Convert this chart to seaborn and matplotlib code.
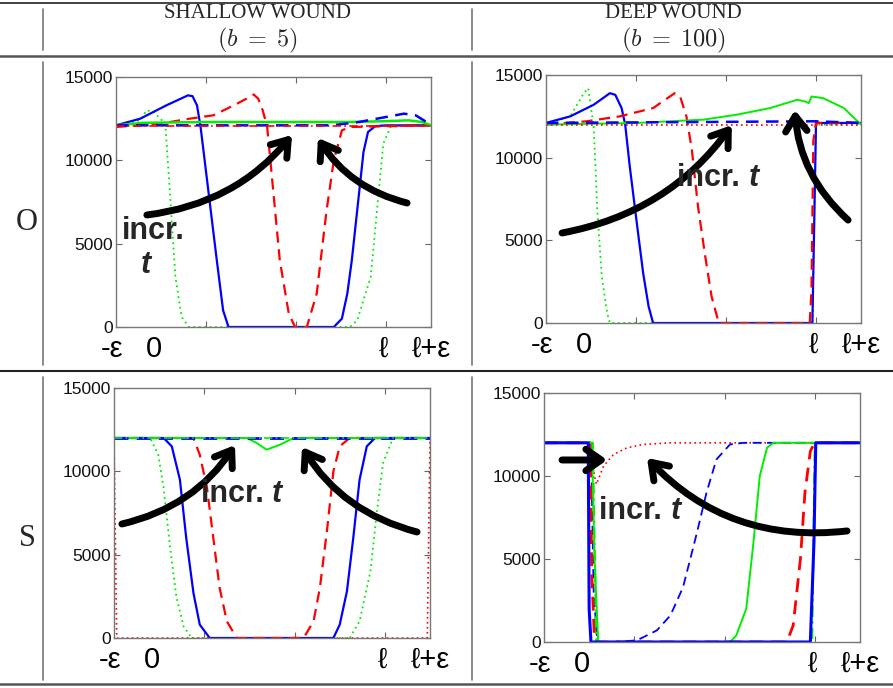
import matplotlib
matplotlib.use("Agg")
import matplotlib.pyplot as plt
import seaborn as sns
import pandas as pd
from matplotlib.lines import Line2D

sns.set_theme(style="white")
plt.rcParams['font.family'] = ['Liberation Sans', 'DejaVu Sans']
plt.rcParams['mathtext.fontset'] = 'cm'

# ---------------- data ----------------
COL_TITLES = ["SHALLOW WOUND", "DEEP WOUND"]
COL_SUBTITLES = [r"$(b\;=\;5)$", r"$(b\;=\;100)$"]
ROW_LABELS = ["O", "S"]
YTICKS = [0, 5000, 10000, 15000]
XTICKS = [1, 2, 3]
XLABEL_POS = [-0.04, 0.42, 2.97, 3.5]
XLABEL_TXT = ["-ε", "0", "ℓ", "ℓ+ε"]

# O, shallow wound
OSH_GDOT_X = [0, 0.27, 0.34, 0.42, 0.51, 0.55, 0.60, 0.66, 0.73, 0.81, 2.60, 2.68, 2.83, 2.90, 2.97, 3.05, 3.23, 3.5]
OSH_GDOT_Y = [12100, 12400, 13000, 12900, 12400, 12000, 8000, 3000, 600, 0, 0, 400, 3000, 7000, 11000, 12000, 12100, 12100]
OSH_BSOL_X = [0, 0.27, 0.56, 0.80, 0.85, 0.90, 0.94, 1.03, 1.12, 1.19, 1.25, 2.42, 2.51, 2.57, 2.62, 2.70, 2.75, 2.80, 2.88, 3.0, 3.5]
OSH_BSOL_Y = [12100, 12500, 13300, 13900, 13850, 13300, 12000, 8000, 4000, 1000, 0, 0, 500, 2000, 4000, 8000, 10500, 11700, 12050, 12100, 12100]
OSH_RDASH_X = [0, 0.49, 0.82, 1.08, 1.31, 1.45, 1.53, 1.58, 1.63, 1.68, 1.75, 1.82, 1.92, 1.99, 2.12, 2.23, 2.34, 2.42, 2.51, 2.60, 3.5]
OSH_RDASH_Y = [12000, 12200, 12500, 12700, 13300, 13700, 13950, 13700, 13000, 12000, 8000, 4000, 800, 0, 0, 2000, 7000, 10000, 11800, 12000, 12100]
OSH_GSOL_X = [0, 0.3, 1.0, 2.0, 2.6, 3.0, 3.25, 3.4, 3.5]
OSH_GSOL_Y = [12100, 12250, 12300, 12300, 12300, 12350, 12400, 12300, 12100]
OSH_BDASH_X = [0, 2.4, 2.7, 3.0, 3.2, 3.33, 3.42, 3.5]
OSH_BDASH_Y = [12100, 12100, 12300, 12600, 12800, 12700, 12400, 12100]
OSH_RDD_X = [0, 3.5]
OSH_RDD_Y = [12050, 12050]

# O, deep wound
ODP_GDOT_X = [0, 0.27, 0.42, 0.47, 0.50, 0.53, 0.57, 0.62, 0.68, 0.71, 2.96, 2.98, 3.0, 3.5]
ODP_GDOT_Y = [12000, 12500, 13900, 14200, 13000, 11900, 6800, 2800, 600, 0, 0, 6000, 12000, 12000]
ODP_BSOL_X = [0, 0.27, 0.53, 0.71, 0.77, 0.84, 0.88, 0.93, 1.01, 1.08, 1.14, 1.19, 2.96, 2.98, 3.0, 3.5]
ODP_BSOL_Y = [12100, 12500, 13200, 13900, 13800, 13000, 12000, 9500, 6000, 3000, 1000, 0, 0, 6000, 12100, 12100]
ODP_RDASH_X = [0, 0.45, 0.82, 1.19, 1.43, 1.49, 1.56, 1.62, 1.69, 1.77, 1.84, 1.92, 2.93, 2.95, 2.97, 3.0, 3.5]
ODP_RDASH_Y = [12000, 12200, 12500, 13000, 13900, 13700, 12500, 10500, 7000, 4000, 1600, 0, 0, 2000, 11000, 12100, 12100]
ODP_GSOL_X = [0, 1.01, 1.75, 2.12, 2.49, 2.79, 2.88, 2.92, 2.95, 3.08, 3.31, 3.5]
ODP_GSOL_Y = [12000, 12100, 12300, 12600, 13000, 13500, 13400, 13300, 13700, 13600, 13000, 12000]
ODP_BDASH_X = [0, 1.5, 3.0, 3.5]
ODP_BDASH_Y = [12100, 12150, 12200, 12100]
ODP_RDOT_X = [0, 3.5]
ODP_RDOT_Y = [12000, 12000]

# S, shallow wound
SSH_RDOT_X = [0, 0.03, 3.47, 3.5]
SSH_RDOT_Y = [12000, 0, 0, 12000]
SSH_GDOT_X = [0, 0.40, 0.49, 0.55, 0.62, 0.69, 0.77, 0.86, 2.61, 2.72, 2.84, 2.91, 2.98, 3.09, 3.5]
SSH_GDOT_Y = [12000, 12000, 11000, 9000, 5500, 2500, 700, 0, 0, 1000, 4000, 7500, 10500, 12000, 12000]
SSH_BSOL_X = [0, 0.55, 0.64, 0.73, 0.80, 0.88, 0.95, 1.06, 2.43, 2.50, 2.58, 2.65, 2.72, 2.80, 2.89, 3.5]
SSH_BSOL_Y = [12000, 12000, 11500, 9500, 6000, 2700, 800, 0, 0, 800, 2800, 6000, 9500, 11500, 12000, 12000]
SSH_RDASH_X = [0, 0.88, 0.95, 1.03, 1.10, 1.17, 1.25, 1.36, 2.10, 2.21, 2.28, 2.36, 2.43, 2.50, 2.61, 3.5]
SSH_RDASH_Y = [12000, 12000, 11000, 9000, 6000, 3000, 1000, 0, 0, 1000, 3000, 6500, 10000, 11500, 12000, 12000]
SSH_GSOL_X = [0, 1.47, 1.58, 1.69, 1.84, 1.99, 3.5]
SSH_GSOL_Y = [12000, 12000, 11700, 11300, 11600, 12000, 12000]
SSH_BDASH_X = [0, 3.5]
SSH_BDASH_Y = [12000, 12000]
SSH_GDD_X = [0, 3.5]
SSH_GDD_Y = [12000, 12000]

# S, deep wound
SDP_RDOT_X = [0, 0.50, 0.56, 0.58, 0.66, 0.77, 0.92, 1.10, 1.40, 3.5]
SDP_RDOT_Y = [12000, 12000, 10000, 9500, 10600, 11300, 11700, 11900, 12000, 12000]
SDP_BDASH_X = [0, 0.52, 0.55, 0.59, 0.77, 1.03, 1.25, 1.40, 1.54, 1.69, 1.80, 1.91, 2.06, 2.21, 3.5]
SDP_BDASH_Y = [12000, 12000, 3000, 0, 0, 100, 700, 1600, 3300, 6500, 9000, 11000, 11900, 12000, 12000]
SDP_GSOL_X = [0, 0.53, 0.56, 0.60, 2.06, 2.13, 2.24, 2.32, 2.39, 2.47, 2.54, 3.5]
SDP_GSOL_Y = [12000, 12000, 5000, 0, 0, 400, 2000, 6000, 10000, 11700, 12000, 12000]
SDP_RDASH_X = [0, 0.51, 0.53, 0.56, 2.69, 2.76, 2.84, 2.89, 2.95, 3.0, 3.5]
SDP_RDASH_Y = [12000, 12000, 4000, 0, 0, 1000, 5000, 9000, 11500, 12000, 12000]
SDP_BSOL_X = [0, 0.49, 0.50, 0.52, 2.95, 2.99, 3.01, 3.5]
SDP_BSOL_Y = [12000, 12000, 2000, 0, 0, 6000, 12000, 12000]
SDP_GDD_X = [0, 0.54, 0.58, 2.97, 3.0, 3.5]
SDP_GDD_Y = [12000, 12000, 0, 0, 12000, 12000]

# ---------------- styles ----------------
BLUE, RED, GREEN = "#0000ff", "#ff0000", "#00ee00"
DOT = (0, (1, 2))
DASH = (0, (5, 3))
DASHDOT = (0, (5, 2, 1, 2))

W, H = 893, 688
fig = plt.figure(figsize=(W / 100, H / 100), dpi=100)


def ax_at(l, t, r, b):
    return fig.add_axes([l / W, 1 - b / H, (r - l) / W, (b - t) / H])


def draw(ax, x, y, color, ls, lw):
    df = pd.DataFrame({"x": x, "y": y})
    sns.lineplot(data=df, x="x", y="y", ax=ax, color=color, linestyle=ls,
                 linewidth=lw, sort=False, estimator=None, legend=False)


def style(ax):
    ax.set_xlim(0, 3.5)
    ax.set_ylim(0, 15000)
    ax.set_xticks(XTICKS)
    ax.set_xticklabels([])
    ax.set_yticks(YTICKS)
    ax.set_yticklabels([str(v) for v in YTICKS], fontsize=12.5, color="#111")
    ax.set_xlabel("")
    ax.set_ylabel("")
    ax.tick_params(direction="in", top=True, right=True, left=True, bottom=True,
                   length=4, width=0.8, color="#666", pad=2)
    for s in ax.spines.values():
        s.set_color("#777")
        s.set_linewidth(1.0)
    for xp, t in zip(XLABEL_POS, XLABEL_TXT):
        ax.annotate(t, xy=(xp, 0), xycoords=("data", "axes fraction"),
                    xytext=(0, -5.5), textcoords="offset points",
                    ha="center", va="top", fontsize=21, color="black",
                    annotation_clip=False)


def arrow(ax, start, end, rad):
    ax.annotate("", xy=end, xytext=start, xycoords="axes fraction",
                arrowprops=dict(arrowstyle="->,head_length=0.5,head_width=0.35",
                                connectionstyle=f"arc3,rad={rad}",
                                lw=5, color="black", mutation_scale=22,
                                shrinkA=0, shrinkB=0))


# Panel O shallow
ax1 = ax_at(116, 77, 431, 327)
draw(ax1, OSH_GDOT_X, OSH_GDOT_Y, GREEN, DOT, 1.3)
draw(ax1, OSH_BSOL_X, OSH_BSOL_Y, BLUE, "-", 1.6)
draw(ax1, OSH_RDASH_X, OSH_RDASH_Y, RED, DASH, 1.6)
draw(ax1, OSH_GSOL_X, OSH_GSOL_Y, GREEN, "-", 1.8)
draw(ax1, OSH_BDASH_X, OSH_BDASH_Y, BLUE, DASH, 1.8)
draw(ax1, OSH_RDD_X, OSH_RDD_Y, RED, DASHDOT, 1.2)
style(ax1)
arrow(ax1, (0.098, 0.448), (0.559, 0.768), 0.2)
arrow(ax1, (0.924, 0.496), (0.641, 0.756), -0.2)
ax1.text(0.12, 0.384, "incr.", transform=ax1.transAxes, ha="center", va="center",
         fontsize=22, fontweight="bold")
ax1.text(0.095, 0.248, "t", transform=ax1.transAxes, ha="center", va="center",
         fontsize=22, fontweight="bold", fontstyle="italic")

# Panel O deep
ax2 = ax_at(546, 75, 861, 323)
draw(ax2, ODP_GDOT_X, ODP_GDOT_Y, GREEN, DOT, 1.3)
draw(ax2, ODP_BSOL_X, ODP_BSOL_Y, BLUE, "-", 1.6)
draw(ax2, ODP_RDASH_X, ODP_RDASH_Y, RED, DASH, 1.6)
draw(ax2, ODP_GSOL_X, ODP_GSOL_Y, GREEN, "-", 1.4)
draw(ax2, ODP_BDASH_X, ODP_BDASH_Y, BLUE, DASH, 1.8)
draw(ax2, ODP_RDOT_X, ODP_RDOT_Y, RED, DOT, 1.2)
style(ax2)
arrow(ax2, (0.051, 0.363), (0.59, 0.798), 0.2)
arrow(ax2, (0.959, 0.415), (0.79, 0.859), -0.2)
ax2.text(0.644, 0.585, "incr. ", transform=ax2.transAxes, ha="right", va="center",
         fontsize=22, fontweight="bold")
ax2.text(0.644, 0.585, "t", transform=ax2.transAxes, ha="left", va="center",
         fontsize=22, fontweight="bold", fontstyle="italic")

# Panel S shallow
ax3 = ax_at(114, 388, 430, 638)
draw(ax3, SSH_RDOT_X, SSH_RDOT_Y, RED, DOT, 1.2)
draw(ax3, SSH_GDOT_X, SSH_GDOT_Y, GREEN, DOT, 1.3)
draw(ax3, SSH_BSOL_X, SSH_BSOL_Y, BLUE, "-", 1.6)
draw(ax3, SSH_RDASH_X, SSH_RDASH_Y, RED, DASH, 1.6)
draw(ax3, SSH_GSOL_X, SSH_GSOL_Y, GREEN, "-", 1.4)
draw(ax3, SSH_BDASH_X, SSH_BDASH_Y, BLUE, DASH, 2.0)
draw(ax3, SSH_GDD_X, SSH_GDD_Y, GREEN, DASHDOT, 1.2)
style(ax3)
arrow(ax3, (0.025, 0.456), (0.383, 0.772), 0.2)
arrow(ax3, (0.959, 0.424), (0.595, 0.764), -0.2)
ax3.text(0.50, 0.576, "incr. ", transform=ax3.transAxes, ha="right", va="center",
         fontsize=22, fontweight="bold")
ax3.text(0.50, 0.576, "t", transform=ax3.transAxes, ha="left", va="center",
         fontsize=22, fontweight="bold", fontstyle="italic")

# Panel S deep
ax4 = ax_at(544, 393, 860, 642)
draw(ax4, SDP_RDOT_X, SDP_RDOT_Y, RED, DOT, 1.2)
draw(ax4, SDP_BDASH_X, SDP_BDASH_Y, BLUE, DASH, 1.3)
draw(ax4, SDP_GSOL_X, SDP_GSOL_Y, GREEN, "-", 1.4)
draw(ax4, SDP_RDASH_X, SDP_RDASH_Y, RED, DASH, 2.0)
draw(ax4, SDP_GDD_X, SDP_GDD_Y, GREEN, DASHDOT, 1.6)
draw(ax4, SDP_BSOL_X, SDP_BSOL_Y, BLUE, "-", 2.2)
style(ax4)
arrow(ax4, (0.057, 0.731), (0.20, 0.731), 0.0)
arrow(ax4, (0.959, 0.446), (0.326, 0.739), -0.25)
ax4.text(0.40, 0.526, "incr. ", transform=ax4.transAxes, ha="right", va="center",
         fontsize=22, fontweight="bold")
ax4.text(0.40, 0.526, "t", transform=ax4.transAxes, ha="left", va="center",
         fontsize=22, fontweight="bold", fontstyle="italic")

# ---------------- table frame ----------------
def hline(y, x0=0, x1=W, lw=1.5, color="#222"):
    fig.add_artist(Line2D([x0 / W, x1 / W], [1 - y / H, 1 - y / H], lw=lw, color=color))


def vline(x, y0, y1, lw=1.2, color="#777"):
    fig.add_artist(Line2D([x / W, x / W], [1 - y0 / H, 1 - y1 / H], lw=lw, color=color))


hline(3, lw=1.2)
hline(56, lw=1.8, color="#555")
hline(371, lw=1.5, color="#222")
hline(684, lw=1.8, color="#555")
for xv in (43, 472):
    vline(xv, 9, 50)
    vline(xv, 62, 365)
    vline(xv, 377, 680)

for cx, t, st in zip([257, 673], COL_TITLES, COL_SUBTITLES):
    fig.text(cx / W, 1 - 14 / H, t, ha="center", va="center", fontsize=15,
             family=["Liberation Serif", "DejaVu Serif"])
    fig.text(cx / W, 1 - 40 / H, st, ha="center", va="center", fontsize=17.5)

for cy, t in zip([222, 538], ROW_LABELS):
    fig.text(27 / W, 1 - cy / H, t, ha="center", va="center", fontsize=22,
             family=["Liberation Serif", "DejaVu Serif"])

fig.savefig("out.png", dpi=100)
